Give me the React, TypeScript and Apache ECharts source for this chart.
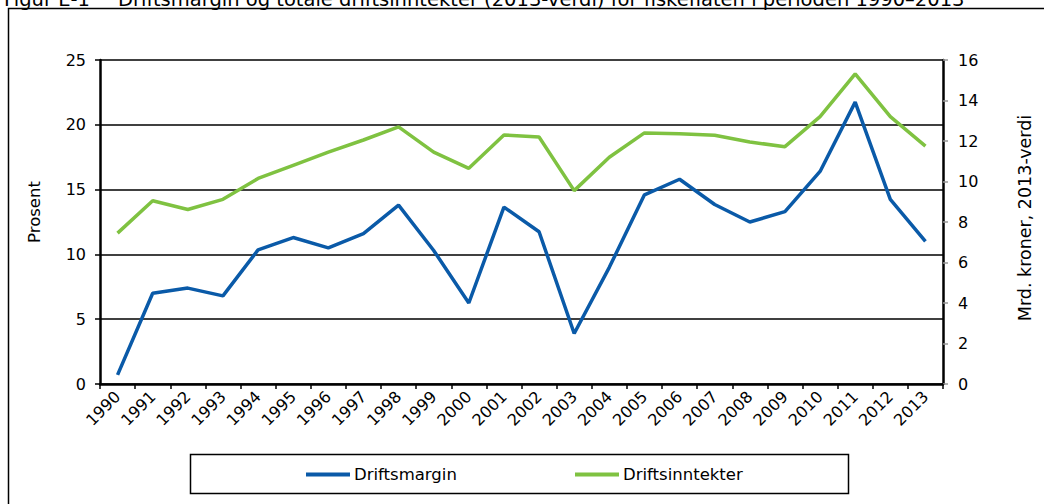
import React, { useEffect, useRef } from "react";
import * as echarts from "echarts";

const years = ["1990","1991","1992","1993","1994","1995","1996","1997","1998","1999","2000","2001","2002","2003","2004","2005","2006","2007","2008","2009","2010","2011","2012","2013"];
const driftsmargin = [0.7, 7.0, 7.4, 6.8, 10.35, 11.3, 10.5, 11.6, 13.8, 10.3, 6.25, 13.65, 11.75, 3.9, 9.0, 14.6, 15.8, 13.85, 12.5, 13.3, 16.4, 21.75, 14.25, 11.0];
const driftsinntekter = [7.45, 9.05, 8.62, 9.12, 10.15, 10.8, 11.45, 12.05, 12.7, 11.45, 10.65, 12.3, 12.2, 9.55, 11.2, 12.4, 12.36, 12.28, 11.95, 11.72, 13.2, 15.32, 13.2, 11.75];
const leftTicks = { min: 0, max: 25, interval: 5 };
const rightTicks = { min: 0, max: 16, interval: 2 };
const titleLabel = "Figur E-1";
const titleText = "Driftsmargin og totale driftsinntekter (2013-verdi) for fiskeflåten i perioden 1990–2013";

const FONT = "DejaVu Sans";

export default function App() {
  const ref = useRef<HTMLDivElement>(null);
  useEffect(() => {
    const chart = echarts.init(ref.current!, null, { renderer: "svg" });
    const legendBase = {
      top: 466,
      padding: 0,
      itemWidth: 44,
      itemHeight: 4,
      itemGap: 0,
      icon: "rect",
      textStyle: { fontFamily: FONT, fontSize: 16.5, color: "#000", padding: [0, 0, 0, -1] },
    };
    chart.setOption({
      animation: false,
      textStyle: { fontFamily: FONT, color: "#000" },
      grid: { left: 100, right: 101, top: 60, bottom: 120 },
      graphic: [
        {
          type: "rect",
          shape: { x: 8.5, y: 8.5, width: 1100, height: 600 },
          style: { fill: "none", stroke: "#000", lineWidth: 1.5 },
        },
        {
          type: "text",
          x: 4,
          y: -1,
          style: { text: titleLabel, font: `19.5px ${FONT}`, fill: "#000", verticalAlign: "middle" },
        },
        {
          type: "text",
          x: 118,
          y: -1,
          style: { text: titleText, font: `19.5px ${FONT}`, fill: "#000", verticalAlign: "middle" },
        },
        {
          type: "rect",
          shape: { x: 190.5, y: 454.5, width: 658, height: 39 },
          style: { fill: "none", stroke: "#000", lineWidth: 1.5 },
        },
      ],
      legend: [
        { ...legendBase, data: ["Driftsmargin"], left: 306 },
        { ...legendBase, data: ["Driftsinntekter"], left: 575 },
      ],
      xAxis: {
        type: "category",
        data: years,
        boundaryGap: true,
        axisLine: { lineStyle: { color: "#000", width: 2.5 } },
        axisTick: { show: true, length: 5, lineStyle: { color: "#000", width: 1.5 } },
        axisLabel: { rotate: 45, fontSize: 16, color: "#000", margin: 10, interval: 0, fontFamily: FONT },
        splitLine: { show: false },
      },
      yAxis: [
        {
          type: "value",
          ...leftTicks,
          name: "Prosent",
          nameLocation: "middle",
          nameRotate: 90,
          nameGap: 57,
          nameTextStyle: { fontSize: 16.5, color: "#000", fontFamily: FONT, padding: [0, 0, 0, 20] },
          axisLine: { show: true, lineStyle: { color: "#000", width: 2.5 } },
          axisTick: { show: true, length: 5, lineStyle: { color: "#000", width: 1.5 } },
          axisLabel: { fontSize: 16, color: "#000", margin: 14, fontFamily: FONT },
          splitLine: { show: true, lineStyle: { color: "#000", width: 1.5 } },
        },
        {
          type: "value",
          ...rightTicks,
          name: "Mrd. kroner, 2013-verdi",
          nameLocation: "middle",
          nameRotate: 90,
          nameGap: 73,
          nameTextStyle: { fontSize: 17.5, color: "#000", fontFamily: FONT, padding: [0, 0, 0, 8] },
          axisLine: { show: true, lineStyle: { color: "#000", width: 2.5 } },
          axisTick: { show: true, length: 5, lineStyle: { color: "#999", width: 1.5 } },
          axisLabel: { fontSize: 16, color: "#000", margin: 15, fontFamily: FONT },
          splitLine: { show: false },
        },
      ],
      series: [
        {
          name: "Driftsmargin",
          type: "line",
          yAxisIndex: 0,
          data: driftsmargin,
          symbol: "none",
          color: "#0A5AA8",
          lineStyle: { width: 3.5, color: "#0A5AA8" },
          z: 3,
        },
        {
          name: "Driftsinntekter",
          type: "line",
          yAxisIndex: 1,
          data: driftsinntekter,
          symbol: "none",
          color: "#7FC241",
          lineStyle: { width: 3.5, color: "#7FC241" },
          z: 2,
        },
      ],
    });
    return () => chart.dispose();
  }, []);
  return (
    <div
      ref={ref}
      style={{ position: "absolute", left: 0, top: 0, width: 1044, height: 504, background: "#fff" }}
    />
  );
}
